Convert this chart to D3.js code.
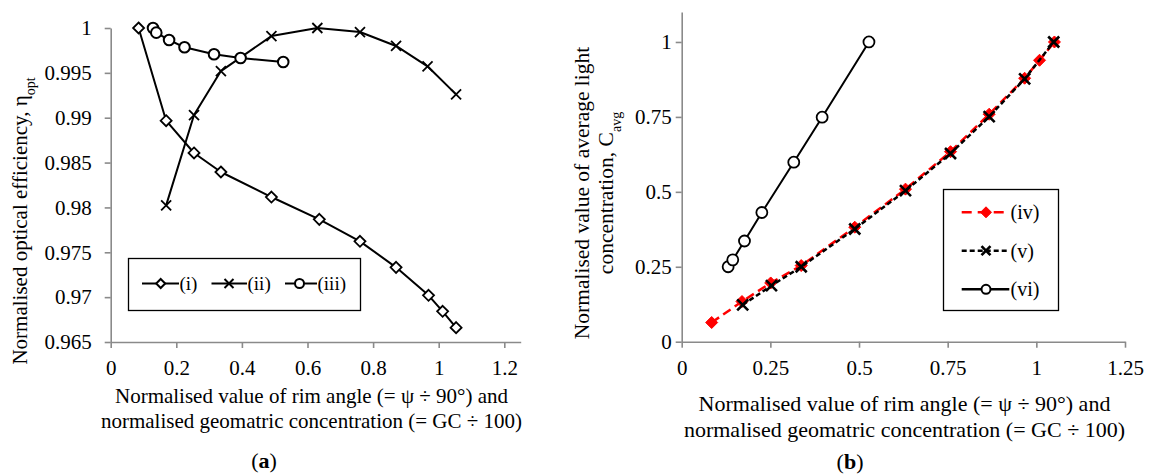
<!DOCTYPE html>
<html>
<head>
<meta charset="utf-8">
<script src="https://cdn.jsdelivr.net/npm/d3@7"></script>
<style>
  body { margin: 0; background: #fff; }
  svg text { font-family: 'Liberation Serif', 'Times New Roman', Times, serif !important; fill: #000; }
</style>
</head>
<body>
<svg id="chart" width="1151" height="475" font-family="Liberation Serif, serif"></svg>
<script>
// ---- panel (a): normalised optical efficiency
const xI   = [0.085, 0.169, 0.254, 0.336, 0.490, 0.636, 0.760, 0.870, 0.969, 1.012, 1.053];
const yI   = [1, 0.98967, 0.98607, 0.98395, 0.98116, 0.97867, 0.97622, 0.97332, 0.9702, 0.96842, 0.9666];
const xII  = [0.169, 0.254, 0.336, 0.490, 0.630, 0.760, 0.870, 0.966, 1.053];
const yII  = [0.98023, 0.9903, 0.9952, 0.9991, 1, 0.99955, 0.998, 0.99573, 0.9926];
const xIII = [0.129, 0.139, 0.178, 0.225, 0.315, 0.396, 0.526];
const yIII = [1, 0.99948, 0.99866, 0.99785, 0.99707, 0.99666, 0.99621];

// ---- panel (b): normalised average light concentration
const xIV = [0.0845, 0.170, 0.251, 0.337, 0.488, 0.631, 0.758, 0.867, 0.967, 1.009, 1.051];
const yIV = [0.064, 0.134, 0.196, 0.254, 0.382, 0.509, 0.634, 0.759, 0.879, 0.939, 1.0];
const xV  = [0.172, 0.253, 0.337, 0.488, 0.631, 0.758, 0.867, 0.967, 1.049];
const yV  = [0.123, 0.187, 0.25, 0.376, 0.504, 0.628, 0.751, 0.877, 1.0];
const xVI = [0.131, 0.144, 0.177, 0.226, 0.316, 0.396, 0.528];
const yVI = [0.25, 0.273, 0.336, 0.431, 0.599, 0.749, 1.0];

// ticks
const xTicksA = [0, 0.2, 0.4, 0.6, 0.8, 1, 1.2];
const xLabelsA = ["0", "0.2", "0.4", "0.6", "0.8", "1", "1.2"];
const yTicksA = [0.965, 0.97, 0.975, 0.98, 0.985, 0.99, 0.995, 1];
const yLabelsA = ["0.965", "0.97", "0.975", "0.98", "0.985", "0.99", "0.995", "1"];
const xTicksB = [0, 0.25, 0.5, 0.75, 1, 1.25];
const xLabelsB = ["0", "0.25", "0.5", "0.75", "1", "1.25"];
const yTicksB = [0, 0.25, 0.5, 0.75, 1];
const yLabelsB = ["0", "0.25", "0.5", "0.75", "1"];

const AXIS = "#8a8a8a";
const FONT = "'Liberation Serif', 'Times New Roman', serif";
const svg = d3.select("#chart");
svg.append("rect").attr("width", 1151).attr("height", 475).attr("fill", "#fff");

const xA = d3.scaleLinear().domain([0, 1.25]).range([110.7, 520.7]);
const yA = d3.scaleLinear().domain([0.965, 1]).range([342, 28]);
const xB = d3.scaleLinear().domain([0, 1.25]).range([681.7, 1125]);
const yB = d3.scaleLinear().domain([0, 1.1]).range([341.7, 12]);

function styleAxis(g, size) {
    g.attr("font-family", null).attr("font-size", null);
    g.select(".domain").attr("stroke", AXIS).attr("stroke-width", 1.6);
    g.selectAll(".tick line").attr("stroke", AXIS).attr("stroke-width", 1.6);
    g.selectAll(".tick text").style("font-family", FONT).style("font-size", size + "px").attr("fill", "#000");
}

// axes (a)
svg.append("g").attr("transform", "translate(0," + yA.range()[0] + ")")
    .call(d3.axisBottom(xA).tickValues(xTicksA).tickSize(6).tickSizeOuter(0).tickPadding(12)
        .tickFormat((d, i) => xLabelsA[i]))
    .call(g => styleAxis(g, 21));
svg.append("g").attr("transform", "translate(" + xA.range()[0] + ",0)")
    .call(d3.axisLeft(yA).tickValues(yTicksA).tickSize(6).tickSizeOuter(0).tickPadding(13)
        .tickFormat((d, i) => yLabelsA[i]))
    .call(g => styleAxis(g, 21));

// axes (b)
svg.append("g").attr("transform", "translate(0," + yB.range()[0] + ")")
    .call(d3.axisBottom(xB).tickValues(xTicksB).tickSize(6).tickSizeOuter(0).tickPadding(12)
        .tickFormat((d, i) => xLabelsB[i]))
    .call(g => styleAxis(g, 21));
svg.append("g").attr("transform", "translate(" + xB.range()[0] + ",0)")
    .call(d3.axisLeft(yB).tickValues(yTicksB).tickSize(6).tickSizeOuter(0).tickPadding(4)
        .tickFormat((d, i) => yLabelsB[i]))
    .call(g => styleAxis(g, 21));

// marker shapes
function diamondPath(r) { return "M0," + (-r) + "L" + r + ",0L0," + r + "L" + (-r) + ",0Z"; }
function crossPath(r) { return "M" + (-r) + "," + (-r) + "L" + r + "," + r + "M" + (-r) + "," + r + "L" + r + "," + (-r); }

function drawMarkers(g, pts, type, opt) {
    const sel = g.selectAll(null).data(pts).enter();
    if (type === "circle") {
        sel.append("circle")
            .attr("cx", d => d[0]).attr("cy", d => d[1]).attr("r", opt.r)
            .attr("fill", opt.fill || "#fff").attr("stroke", opt.stroke).attr("stroke-width", opt.sw);
    } else {
        sel.append("path")
            .attr("transform", d => "translate(" + d[0] + "," + d[1] + ")")
            .attr("d", type === "diamond" ? diamondPath(opt.r) : crossPath(opt.r))
            .attr("fill", type === "cross" ? "none" : (opt.fill || "#fff"))
            .attr("stroke", opt.stroke).attr("stroke-width", opt.sw);
    }
}

function series(g, xs, ys, xs_, ys_, opt) {
    const pts = xs.map((x, i) => [xs_(x), ys_(ys[i])]);
    g.append("path")
        .attr("d", d3.line()(pts))
        .attr("fill", "none")
        .attr("stroke", opt.line)
        .attr("stroke-width", opt.lw)
        .attr("stroke-linejoin", "round")
        .attr("stroke-dasharray", opt.dash || null);
    return pts;
}

// panel (a) series
const gA = svg.append("g");
const pI = series(gA, xI, yI, xA, yA, { line: "#000", lw: 2 });
const pII = series(gA, xII, yII, xA, yA, { line: "#000", lw: 2 });
const pIII = series(gA, xIII, yIII, xA, yA, { line: "#000", lw: 2 });
drawMarkers(gA, pI, "diamond", { r: 5.5, stroke: "#000", sw: 1.8 });
drawMarkers(gA, pII, "cross", { r: 5, stroke: "#000", sw: 1.8 });
drawMarkers(gA, pIII, "circle", { r: 5.3, stroke: "#000", sw: 2 });

// panel (b) series
const gB = svg.append("g");
const pIV = series(gB, xIV, yIV, xB, yB, { line: "#ff0000", lw: 2.5, dash: "9,5" });
drawMarkers(gB, pIV, "diamond", { r: 6, stroke: "#ff0000", sw: 1, fill: "#ff0000" });
const pV = series(gB, xV, yV, xB, yB, { line: "#000", lw: 2.5, dash: "5,3" });
drawMarkers(gB, pV, "cross", { r: 5.5, stroke: "#000", sw: 2.6 });
const pVI = series(gB, xVI, yVI, xB, yB, { line: "#000", lw: 2 });
drawMarkers(gB, pVI, "circle", { r: 5.5, stroke: "#000", sw: 1.8 });

// legend (a)
const legA = svg.append("g");
legA.append("rect").attr("x", 128.5).attr("y", 258.5).attr("width", 232).attr("height", 52)
    .attr("fill", "#fff").attr("stroke", "#000").attr("stroke-width", 1.3);
const legAItems = [
    { name: "(i)", type: "diamond", x0: 142, x1: 179, mx: 160.7 },
    { name: "(ii)", type: "cross", x0: 211.5, x1: 247, mx: 229 },
    { name: "(iii)", type: "circle", x0: 285, x1: 317, mx: 299.5 }
];
legAItems.forEach(it => {
    legA.append("line").attr("x1", it.x0).attr("x2", it.x1).attr("y1", 283.5).attr("y2", 283.5)
        .attr("stroke", "#000").attr("stroke-width", 2);
    drawMarkers(legA, [[it.mx, 283.5]], it.type, { r: 4.5, stroke: "#000", sw: 2 });
    legA.append("text").attr("x", it.x1 + 0.5).attr("y", 290).style("font-size", "19px").text(it.name);
});

// legend (b)
const legB = svg.append("g");
legB.append("rect").attr("x", 943.5).attr("y", 189.5).attr("width", 115).attr("height", 121)
    .attr("fill", "#fff").attr("stroke", "#000").attr("stroke-width", 1.3);
const legBItems = [
    { name: "(iv)", y: 212.3, type: "diamond", line: "#ff0000", dash: "10,6", fill: "#ff0000", sw: 1, r: 5.5 },
    { name: "(v)", y: 250.7, type: "cross", line: "#000", dash: "5,3", sw: 2.6, r: 4.5 },
    { name: "(vi)", y: 289.3, type: "circle", line: "#000", dash: null, sw: 2, r: 4.5 }
];
legBItems.forEach(it => {
    legB.append("line").attr("x1", 961.7).attr("x2", 1009.3).attr("y1", it.y).attr("y2", it.y)
        .attr("stroke", it.line).attr("stroke-width", 2.5).attr("stroke-dasharray", it.dash);
    drawMarkers(legB, [[986, it.y]], it.type, { r: it.r, stroke: it.line, sw: it.sw, fill: it.fill });
    legB.append("text").attr("x", 1010.5).attr("y", it.y + 7).style("font-size", "20px").text(it.name);
});

// axis titles (a)
const yTitleA = svg.append("text")
    .attr("transform", "translate(27,221) rotate(-90)")
    .attr("text-anchor", "middle").style("font-size", "21px");
yTitleA.append("tspan").text("Normalised optical efficiency, η");
yTitleA.append("tspan").attr("baseline-shift", "sub").style("font-size", "14px").text("opt");

svg.append("text").attr("x", 311.5).attr("y", 402.7).attr("text-anchor", "middle").style("font-size", "21px")
    .text("Normalised value of rim angle (= ψ ÷ 90°) and");
svg.append("text").attr("x", 311.5).attr("y", 427.5).attr("text-anchor", "middle").style("font-size", "21px")
    .text("normalised geomatric concentration (= GC ÷ 100)");

// axis titles (b)
svg.append("text").attr("transform", "translate(589,193) rotate(-90)")
    .attr("text-anchor", "middle").style("font-size", "21.5px")
    .text("Normalised value of average light");
const yTitleB2 = svg.append("text").attr("transform", "translate(613,193) rotate(-90)")
    .attr("text-anchor", "middle").style("font-size", "21.5px");
yTitleB2.append("tspan").text("concentration, C");
yTitleB2.append("tspan").attr("baseline-shift", "sub").style("font-size", "14px").text("avg");

svg.append("text").attr("x", 904.5).attr("y", 411).attr("text-anchor", "middle").style("font-size", "22px")
    .text("Normalised value of rim angle (= ψ ÷ 90°) and");
svg.append("text").attr("x", 904.5).attr("y", 436.5).attr("text-anchor", "middle").style("font-size", "22px")
    .text("normalised geomatric concentration (= GC ÷ 100)");

// panel captions
function caption(x, y, letter) {
    const t = svg.append("text").attr("x", x).attr("y", y).attr("text-anchor", "middle").style("font-size", "22px");
    t.append("tspan").text("(");
    t.append("tspan").style("font-weight", "bold").text(letter);
    t.append("tspan").text(")");
}
caption(264, 468, "a");
caption(850, 469, "b");
</script>
</body>
</html>
